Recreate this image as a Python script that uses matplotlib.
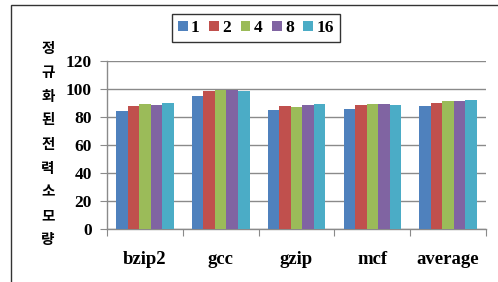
import numpy as np
import matplotlib
matplotlib.use("Agg")
import matplotlib.pyplot as plt
from matplotlib.patches import Rectangle

categories = ["bzip2", "gcc", "gzip", "mcf", "average"]
series = ["1", "2", "4", "8", "16"]
values = {
    "1":  [84.5, 95.2, 84.8, 85.5, 87.9],
    "2":  [87.6, 98.3, 87.9, 88.6, 90.2],
    "4":  [89.5, 99.3, 86.9, 89.5, 91.2],
    "8":  [88.6, 99.3, 88.6, 89.5, 91.2],
    "16": [90.2, 98.3, 89.5, 88.6, 92.1],
}
yticks = [0, 20, 40, 60, 80, 100, 120]
colors = ["#4F81BD", "#C0504D", "#9BBB59", "#8064A2", "#4BACC6"]

serif = "Liberation Serif"
kor = ["Noto Sans CJK KR", "DejaVu Sans"]

fig = plt.figure(figsize=(4.98, 2.82), dpi=100)
ax = fig.add_axes([0.2149, 0.188, 0.761, 0.596])

# outer frame of the chart
fig.patches.append(Rectangle((11 / 498, -0.1), 1.2, 1.1 - 5 / 282, transform=fig.transFigure,
                             fill=False, edgecolor="#333333", lw=1.0))

x = np.arange(len(categories))
bw = 0.152
for i, (s, c) in enumerate(zip(series, colors)):
    off = (i - 2) * bw
    ax.bar(x + off, values[s], bw, color=c, label=s, zorder=3)

ax.set_xlim(-0.5, 4.5)
ax.set_ylim(0, 120)
ax.set_yticks(yticks)
ax.yaxis.grid(True, color="#8a8a8a", lw=1.0, zorder=0)

ax.set_xticks(np.arange(-0.5, 5, 1))
ax.set_xticklabels([])
ax.set_xticks(x, minor=True)
ax.set_xticklabels(categories, minor=True, fontfamily=serif, fontweight="bold", fontsize=13.5)
ax.tick_params(axis="x", which="major", length=5, color="#8a8a8a", direction="out")
ax.tick_params(axis="x", which="minor", length=0, pad=16)
ax.tick_params(axis="y", length=5, color="#8a8a8a", pad=6)
for lab in ax.get_yticklabels():
    lab.set_fontfamily(serif)
    lab.set_fontweight("bold")
    lab.set_fontsize(12.5)

for side in ["top", "right"]:
    ax.spines[side].set_visible(False)
for side in ["left", "bottom"]:
    ax.spines[side].set_color("#8a8a8a")
    ax.spines[side].set_linewidth(1.0)

# vertical korean axis title
fig.text(48 / 498, 1 - 40 / 282, "정\n규\n화\n된", family=kor, fontweight="bold", fontsize=10.5,
         ha="center", va="top", linespacing=1.6)
fig.text(48 / 498, 1 - 136 / 282, "전\n력\n소\n모\n량", family=kor, fontweight="bold", fontsize=10.5,
         ha="center", va="top", linespacing=1.6)

leg = fig.legend(loc="center", bbox_to_anchor=(256 / 498, 1 - 28 / 282), ncol=5, frameon=True,
                 fancybox=False, edgecolor="black", handlelength=0.55, handleheight=0.55,
                 handletextpad=0.2, columnspacing=0.55, borderpad=0.35,
                 prop={"family": serif, "weight": "bold", "size": 12.5})
leg.get_frame().set_linewidth(1.0)

fig.savefig("out.png", dpi=100)
